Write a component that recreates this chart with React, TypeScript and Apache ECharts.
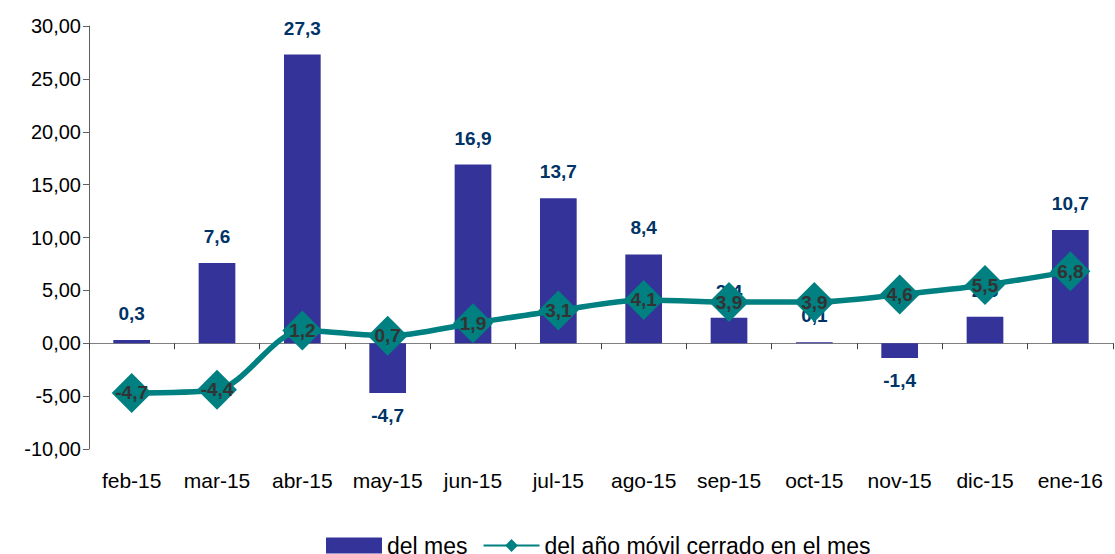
import React, { useEffect, useRef } from "react";
import * as echarts from "echarts";

const categories = ["feb-15", "mar-15", "abr-15", "may-15", "jun-15", "jul-15", "ago-15", "sep-15", "oct-15", "nov-15", "dic-15", "ene-16"];
const delMes = [0.3, 7.6, 27.3, -4.7, 16.9, 13.7, 8.4, 2.4, 0.1, -1.4, 2.5, 10.7];
const delAnoMovil = [-4.7, -4.4, 1.2, 0.7, 1.9, 3.1, 4.1, 3.9, 3.9, 4.6, 5.5, 6.8];
const yTicks = { min: -10, max: 30, interval: 5 };

const FONT = "'Liberation Sans', Arial, sans-serif";
const fmt1 = (v: number) => v.toFixed(1).replace(".", ",");
const fmt2 = (v: number) => v.toFixed(2).replace(".", ",");

export default function App() {
  const ref = useRef<HTMLDivElement>(null);
  useEffect(() => {
    document.body.style.margin = "0";
    const chart = echarts.init(ref.current!, null, { renderer: "svg" });
    chart.setOption({
      animation: false,
      backgroundColor: "#ffffff",
      textStyle: { fontFamily: FONT },
      grid: { left: 89, right: 2, top: 26, bottom: 105, containLabel: false },
      legend: {
        top: 529,
        left: 321,
        itemWidth: 56,
        itemHeight: 16,
        itemGap: 15,
        textStyle: { fontSize: 23, color: "#000", fontFamily: FONT },
        data: [
          { name: "del mes", icon: "rect" },
          { name: "del año móvil cerrado en el mes" },
        ],
      },
      xAxis: [
        {
          type: "category",
          data: categories,
          axisLine: { onZero: true, lineStyle: { color: "#808080", width: 1 } },
          axisTick: { show: true, inside: false, length: 6, lineStyle: { color: "#404040" } },
          axisLabel: { show: false },
        },
        {
          type: "category",
          data: categories,
          position: "bottom",
          axisLine: { show: false, onZero: false },
          axisTick: { show: false },
          axisLabel: { show: true, interval: 0, fontSize: 21, color: "#000", margin: 21, fontFamily: FONT },
        },
      ],
      yAxis: {
        type: "value",
        min: yTicks.min,
        max: yTicks.max,
        interval: yTicks.interval,
        splitLine: { show: false },
        axisLine: { show: true, lineStyle: { color: "#606060" } },
        axisTick: { show: true, length: 6, lineStyle: { color: "#606060" } },
        axisLabel: { fontSize: 20, color: "#000", margin: 8, formatter: (v: number) => fmt2(v), fontFamily: FONT },
      },
      series: [
        {
          name: "del mes",
          type: "bar",
          xAxisIndex: 0,
          barWidth: "43%",
          itemStyle: { color: "#333399" },
          data: delMes.map((v) => ({
            value: v,
            label: {
              show: true,
              position: v >= 0 ? "top" : "bottom",
              distance: v >= 0 ? 17 : 13,
              formatter: () => fmt1(v),
              color: "#003366",
              fontWeight: "bold",
              fontSize: 19,
              fontFamily: FONT,
            },
          })),
          z: 1,
        },
        {
          name: "del año móvil cerrado en el mes",
          type: "line",
          xAxisIndex: 0,
          smooth: 0.3,
          symbol: "diamond",
          symbolSize: 40,
          lineStyle: { color: "#008080", width: 5.5 },
          itemStyle: { color: "#008080" },
          label: {
            show: true,
            position: "inside",
            formatter: (p: any) => fmt1(p.value),
            color: "#333333",
            fontWeight: "bold",
            fontSize: 19,
            fontFamily: FONT,
          },
          data: delAnoMovil,
          z: 3,
        },
      ],
    });
    return () => chart.dispose();
  }, []);
  return <div ref={ref} style={{ width: 1115, height: 554 }} />;
}
